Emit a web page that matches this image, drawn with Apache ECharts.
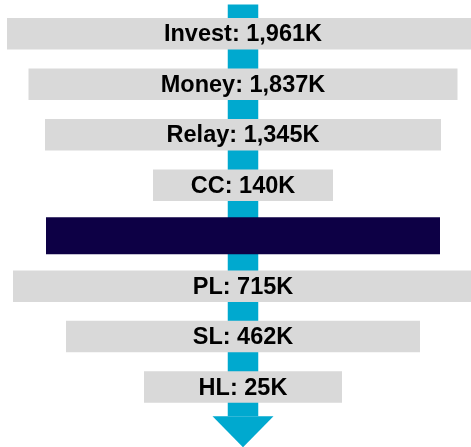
<!DOCTYPE html>
<html>
<head>
<meta charset="utf-8">
<script src="https://cdn.jsdelivr.net/npm/echarts@6/dist/echarts.min.js"></script>
<style>
  html, body { margin: 0; padding: 0; background: #fff; }
  #flow_charts { width: 471px; height: 447px; }
</style>
</head>
<body>
<div id="flow_charts"></div>
<script>
// stage names and their counts (K); the dark row has no label
const stages = ['Invest', 'Money', 'Relay', 'CC', '', 'PL', 'SL', 'HL'];
const counts = [1961, 1837, 1345, 140, null, 715, 462, 25];
// bar lengths as drawn, centred on the arrow
const spans = [472, 429, 396, 180, 394, 460, 354, 198];
const darkRow = 4;

const chart = echarts.init(document.getElementById('flow_charts'));

// draw one centred bar with its text
function renderBar (params, api) {
  const row = api.value(1);
  const span = api.value(0);
  const left = api.coord([-span / 2, row]);
  const right = api.coord([span / 2, row]);
  const isDark = row === darkRow;
  const h = isDark ? 37 : 31.5;
  const children = [{
    type: 'rect',
    shape: { x: left[0], y: left[1] - h / 2, width: right[0] - left[0], height: h },
    style: { fill: isDark ? '#0D0045' : '#D9D9D9' }
  }];
  if (counts[row] != null) {
    children.push({
      type: 'text',
      style: {
        text: stages[row] + ': ' + counts[row].toLocaleString('en-US') + 'K',
        x: (left[0] + right[0]) / 2,
        y: left[1] + 1,
        align: 'center',
        verticalAlign: 'middle',
        fontSize: 23.5,
        fontWeight: 'bold',
        fontFamily: '"Liberation Sans", Arial, sans-serif',
        fill: '#000'
      }
    });
  }
  return { type: 'group', children: children };
}

// the arrow behind the bars
function renderArrow (params, api) {
  const cs = params.coordSys;
  const cx = api.coord([0, 0])[0];
  const top = cs.y - 4;
  const headTop = cs.y + cs.height + 4;
  const tip = headTop + 31;
  return {
    type: 'group',
    children: [
      {
        type: 'rect',
        shape: { x: cx - 15.25, y: top, width: 30.5, height: headTop - top },
        style: { fill: '#00A9CF' }
      },
      {
        type: 'polygon',
        shape: { points: [[cx - 30.5, headTop], [cx + 30.5, headTop], [cx, tip]] },
        style: { fill: '#00A9CF' }
      }
    ]
  };
}

const option = {
  animation: false,
  grid: { left: 0, right: 0, top: 8.6, bottom: 34.7 },
  xAxis: { type: 'value', min: -243, max: 228, show: false },
  yAxis: { type: 'category', data: stages.map((s, i) => s || 'row' + i), inverse: true, show: false },
  series: [
    {
      type: 'custom',
      z: 1,
      renderItem: renderArrow,
      data: [[0, 0]]
    },
    {
      type: 'custom',
      z: 2,
      renderItem: renderBar,
      encode: { x: 0, y: 1 },
      data: spans.map((s, i) => [s, i])
    }
  ]
};

chart.setOption(option);
window.addEventListener('resize', () => {
  chart.resize();
});
</script>
</body>
</html>
